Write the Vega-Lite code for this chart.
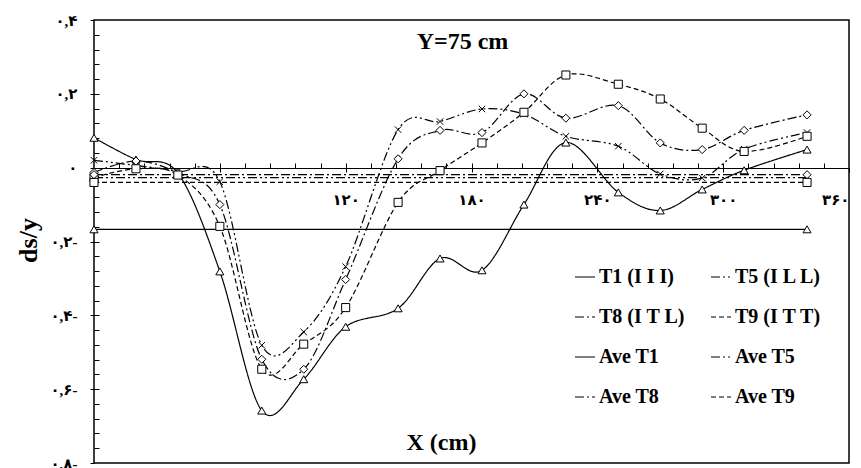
{
  "$schema": "https://vega.github.io/schema/vega-lite/v6.json",
  "width": 755,
  "height": 443,
  "autosize": {"type": "none"},
  "padding": {"left": 94, "top": 20, "right": 12, "bottom": 5},
  "background": "white",
  "config": {
    "view": {"stroke": "black", "strokeWidth": 1.5},
    "axis": {"grid": false, "domain": false, "tickColor": "black", "labelColor": "black", "titleColor": "black"},
    "legend": {
      "orient": "none", "legendX": 480, "legendY": 246,
      "columns": 2, "columnPadding": 22, "rowPadding": 19,
      "padding": 0,
      "labelFont": "Liberation Serif", "labelFontSize": 20, "labelFontWeight": "bold", "labelColor": "black",
      "symbolSize": 400, "labelOffset": 3
    }
  },
  "title": {
    "text": "Y=75 cm",
    "frame": "group",
    "anchor": "middle",
    "offset": 0,
    "dy": 60,
    "dx": -9,
    "baseline": "alphabetic",
    "font": "Liberation Serif",
    "fontSize": 24,
    "fontWeight": "bold",
    "color": "black"
  },
  "data": {
    "values": [
      {"s": "T1 (I I I)", "x": 0, "v": 0.081},
      {"s": "T1 (I I I)", "x": 20, "v": 0.022},
      {"s": "T1 (I I I)", "x": 40, "v": -0.015},
      {"s": "T1 (I I I)", "x": 60, "v": -0.281},
      {"s": "T1 (I I I)", "x": 80, "v": -0.658},
      {"s": "T1 (I I I)", "x": 100, "v": -0.573},
      {"s": "T1 (I I I)", "x": 120, "v": -0.431},
      {"s": "T1 (I I I)", "x": 145, "v": -0.381},
      {"s": "T1 (I I I)", "x": 165, "v": -0.246},
      {"s": "T1 (I I I)", "x": 185, "v": -0.278},
      {"s": "T1 (I I I)", "x": 205, "v": -0.1},
      {"s": "T1 (I I I)", "x": 225, "v": 0.068},
      {"s": "T1 (I I I)", "x": 250, "v": -0.067},
      {"s": "T1 (I I I)", "x": 270, "v": -0.116},
      {"s": "T1 (I I I)", "x": 290, "v": -0.059},
      {"s": "T1 (I I I)", "x": 310, "v": -0.007},
      {"s": "T1 (I I I)", "x": 340, "v": 0.049},
      {"s": "T5 (I L L)", "x": 0, "v": 0.02},
      {"s": "T5 (I L L)", "x": 20, "v": 0.006},
      {"s": "T5 (I L L)", "x": 40, "v": -0.01},
      {"s": "T5 (I L L)", "x": 60, "v": -0.038},
      {"s": "T5 (I L L)", "x": 80, "v": -0.481},
      {"s": "T5 (I L L)", "x": 100, "v": -0.445},
      {"s": "T5 (I L L)", "x": 120, "v": -0.268},
      {"s": "T5 (I L L)", "x": 145, "v": 0.103},
      {"s": "T5 (I L L)", "x": 165, "v": 0.125},
      {"s": "T5 (I L L)", "x": 185, "v": 0.159},
      {"s": "T5 (I L L)", "x": 205, "v": 0.145},
      {"s": "T5 (I L L)", "x": 225, "v": 0.085},
      {"s": "T5 (I L L)", "x": 250, "v": 0.058},
      {"s": "T5 (I L L)", "x": 270, "v": -0.017},
      {"s": "T5 (I L L)", "x": 290, "v": -0.028},
      {"s": "T5 (I L L)", "x": 310, "v": 0.05},
      {"s": "T5 (I L L)", "x": 340, "v": 0.095},
      {"s": "T8 (I T L)", "x": 0, "v": -0.013},
      {"s": "T8 (I T L)", "x": 20, "v": 0.018},
      {"s": "T8 (I T L)", "x": 40, "v": -0.015},
      {"s": "T8 (I T L)", "x": 60, "v": -0.1},
      {"s": "T8 (I T L)", "x": 80, "v": -0.519},
      {"s": "T8 (I T L)", "x": 100, "v": -0.546},
      {"s": "T8 (I T L)", "x": 120, "v": -0.303},
      {"s": "T8 (I T L)", "x": 145, "v": 0.024},
      {"s": "T8 (I T L)", "x": 165, "v": 0.101},
      {"s": "T8 (I T L)", "x": 185, "v": 0.095},
      {"s": "T8 (I T L)", "x": 205, "v": 0.2},
      {"s": "T8 (I T L)", "x": 225, "v": 0.134},
      {"s": "T8 (I T L)", "x": 250, "v": 0.168},
      {"s": "T8 (I T L)", "x": 270, "v": 0.067},
      {"s": "T8 (I T L)", "x": 290, "v": 0.049},
      {"s": "T8 (I T L)", "x": 310, "v": 0.101},
      {"s": "T8 (I T L)", "x": 340, "v": 0.143},
      {"s": "T9 (I T T)", "x": 0, "v": -0.027},
      {"s": "T9 (I T T)", "x": 20, "v": -0.003},
      {"s": "T9 (I T T)", "x": 40, "v": -0.02},
      {"s": "T9 (I T T)", "x": 60, "v": -0.159},
      {"s": "T9 (I T T)", "x": 80, "v": -0.546},
      {"s": "T9 (I T T)", "x": 100, "v": -0.478},
      {"s": "T9 (I T T)", "x": 120, "v": -0.379},
      {"s": "T9 (I T T)", "x": 145, "v": -0.094},
      {"s": "T9 (I T T)", "x": 165, "v": -0.008},
      {"s": "T9 (I T T)", "x": 185, "v": 0.067},
      {"s": "T9 (I T T)", "x": 205, "v": 0.15},
      {"s": "T9 (I T T)", "x": 225, "v": 0.251},
      {"s": "T9 (I T T)", "x": 250, "v": 0.226},
      {"s": "T9 (I T T)", "x": 270, "v": 0.186},
      {"s": "T9 (I T T)", "x": 290, "v": 0.107},
      {"s": "T9 (I T T)", "x": 310, "v": 0.044},
      {"s": "T9 (I T T)", "x": 340, "v": 0.085},
      {"s": "Ave T1", "x": 0, "v": -0.167},
      {"s": "Ave T1", "x": 340, "v": -0.167},
      {"s": "Ave T5", "x": 0, "v": -0.027},
      {"s": "Ave T5", "x": 340, "v": -0.027},
      {"s": "Ave T8", "x": 0, "v": -0.019},
      {"s": "Ave T8", "x": 340, "v": -0.019},
      {"s": "Ave T9", "x": 0, "v": -0.04},
      {"s": "Ave T9", "x": 340, "v": -0.04}
    ]
  },
  "resolve": {"axis": {"x": "independent", "y": "independent"}},
  "layer": [
    {
      "mark": {"type": "line", "interpolate": "cardinal", "strokeWidth": 1.2, "color": "black"},
      "encoding": {
        "x": {
          "field": "x", "type": "quantitative",
          "scale": {"domain": [0, 360], "nice": false, "zero": false},
          "axis": {
            "orient": "bottom", "offset": -295, "domain": true, "domainColor": "black", "domainWidth": 1.2,
            "values": [12, 24, 36, 48, 60, 72, 84, 96, 108, 120, 132, 144, 156, 168, 180, 192, 204, 216, 228, 240, 252, 264, 276, 288, 300, 312, 324, 336, 348],
            "tickSize": -5, "labels": false, "title": null
          }
        },
        "y": {
          "field": "v", "type": "quantitative",
          "scale": {"domain": [-0.8, 0.4], "nice": false, "zero": false},
          "axis": {
            "orient": "left",
            "values": [-0.76, -0.72, -0.68, -0.64, -0.6, -0.56, -0.52, -0.48, -0.44, -0.4, -0.36, -0.32, -0.28, -0.24, -0.2, -0.16, -0.12, -0.08, -0.04, 0, 0.04, 0.08, 0.12, 0.16, 0.2, 0.24, 0.28, 0.32, 0.36],
            "tickSize": -5, "labels": false, "title": null
          }
        },
        "strokeDash": {
          "field": "s", "type": "nominal",
          "scale": {
            "domain": ["T1 (I I I)", "T8 (I T L)", "Ave T1", "Ave T8", "T5 (I L L)", "T9 (I T T)", "Ave T5", "Ave T9"],
            "range": [[1, 0], [9, 3, 2, 3], [1, 0], [9, 3, 2, 3], [9, 3, 2, 3, 2, 3], [5, 3], [9, 3, 2, 3, 2, 3], [5, 3]]
          },
          "legend": {"title": null, "symbolStrokeColor": "black", "symbolStrokeWidth": 1.2}
        }
      }
    },
    {
      "transform": [
        {"calculate": "indexof(datum.s,'T1')>=0 ? 'T1' : indexof(datum.s,'T5')>=0 ? 'T5' : indexof(datum.s,'T8')>=0 ? 'T8' : 'T9'", "as": "g"}
      ],
      "mark": {"type": "point", "filled": true, "fill": "white", "stroke": "black", "strokeWidth": 1, "size": 65, "opacity": 1},
      "encoding": {
        "x": {
          "field": "x", "type": "quantitative",
          "axis": {
            "orient": "bottom", "offset": -295,
            "values": [60, 120, 180, 240, 300, 360],
            "tickSize": 4, "labelPadding": 20,
            "labelExpr": "datum.value==120?'۱۲۰':datum.value==180?'۱۸۰':datum.value==240?'۲۴۰':datum.value==300?'۳۰۰':datum.value==360?'۳۶۰':''",
            "labelFont": "Liberation Serif, DejaVu Sans", "labelFontSize": 15, "labelFontWeight": "bold",
            "title": "X (cm)", "titleX": 347, "titleY": 281, "titleAlign": "center", "titleBaseline": "alphabetic",
            "titleFont": "Liberation Serif", "titleFontSize": 24, "titleFontWeight": "bold"
          }
        },
        "y": {
          "field": "v", "type": "quantitative",
          "axis": {
            "orient": "left",
            "values": [-0.8, -0.6, -0.4, -0.2, 0, 0.2, 0.4],
            "tickSize": 4, "labelPadding": 13,
            "labelExpr": "round(datum.value*10)==4?'۰,۴':round(datum.value*10)==2?'۰,۲':round(datum.value*10)==0?'۰':round(datum.value*10)==-2?'۰,۲-':round(datum.value*10)==-4?'۰,۴-':round(datum.value*10)==-6?'۰,۶-':'۰,۸-'",
            "labelFont": "Liberation Serif, DejaVu Sans", "labelFontSize": 15, "labelFontWeight": "bold",
            "title": "ds/y", "titleX": -66, "titleY": 220, "titleAngle": 270, "titleAlign": "center", "titleBaseline": "middle",
            "titleFont": "Liberation Serif", "titleFontSize": 26, "titleFontWeight": "bold"
          }
        },
        "shape": {
          "field": "g", "type": "nominal",
          "scale": {
            "domain": ["T1", "T5", "T8", "T9"],
            "range": ["triangle-up", "M-0.8,-0.8L0.8,0.8M-0.8,0.8L0.8,-0.8", "diamond", "square"]
          },
          "legend": null
        }
      }
    }
  ]
}
